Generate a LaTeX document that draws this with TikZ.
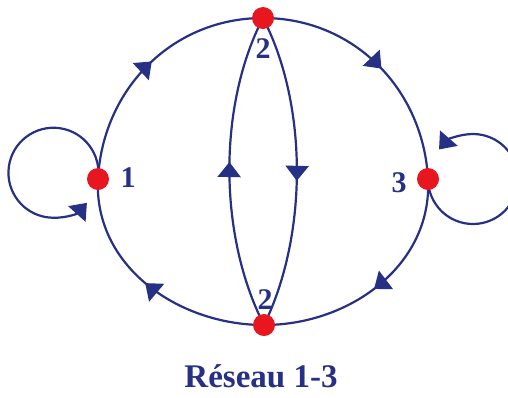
\documentclass[tikz,border=0pt]{standalone}
\usepackage{fontspec}
\setmainfont{Liberation Serif}
\usetikzlibrary{arrows.meta,decorations.markings}
\definecolor{navy}{RGB}{38,48,132}
\definecolor{dotred}{RGB}{232,22,30}
\tikzset{
  tri/.tip={Triangle[length=15pt,width=23pt]},
  edge/.style={draw=navy,line width=2.2pt},
  midarrow/.style={edge,postaction={decorate},decoration={markings,mark=at position #1 with {\arrow[navy]{tri}}}},
  vertex/.style={circle,fill=dotred,inner sep=0pt,minimum size=22pt},
  lab/.style={text=navy,font=\fontsize{30}{30}\selectfont\bfseries,inner sep=0pt},
}
\begin{document}
\begin{tikzpicture}[x=1pt,y=1pt]
\useasboundingbox (0,0) rectangle (508,-397);
\coordinate (N1) at (98,-179);
\coordinate (T) at (263,-18);
\coordinate (N3) at (428,-179);
\coordinate (B) at (264,-325);
% outer
\draw[midarrow=0.52] (N1) to[out=87,in=180] (T);
\draw[midarrow=0.52] (T) to[out=0,in=93] (N3);
\draw[midarrow=0.52] (N3) to[out=-87,in=0] (B);
\draw[midarrow=0.52] (B) to[out=180,in=-93] (N1);
% inner
\draw[midarrow=0.53] (B) .. controls (218,-235) and (218,-105) .. (T);
\draw[midarrow=0.53] (T) .. controls (308,-105) and (308,-235) .. (B);
% loops
\draw[edge,-{tri}] (N1) arc[start angle=-8,end angle=318,radius=45];
\draw[edge,-{tri}] (N3) arc[start angle=180,end angle=499,radius=45];
% vertices
\node[vertex] (v1) at (N1) {};
\node[vertex] (v2t) at (T) {};
\node[vertex] (v3) at (N3) {};
\node[vertex] (v2b) at (B) {};
\node[lab] (l1) at (128,-178) {1};
\node[lab] (l2t) at (263,-49) {2};
\node[lab] (l3) at (399,-183) {3};
\node[lab] (l2b) at (265,-300) {2};
\node[text=navy,font=\fontsize{33}{33}\selectfont\bfseries,inner sep=0pt] (title) at (261,-376) {Réseau 1-3};
\end{tikzpicture}
\end{document}
